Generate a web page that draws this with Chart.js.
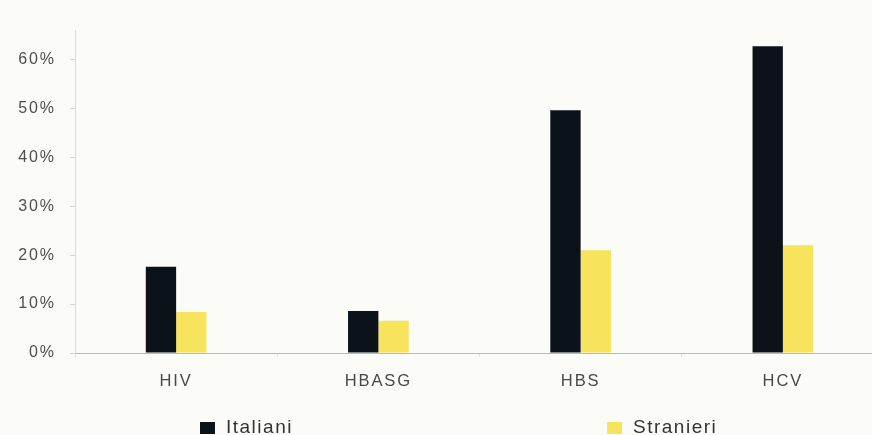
<!DOCTYPE html>
<html>
<head>
<meta charset="utf-8">
<script src="https://cdn.jsdelivr.net/npm/chart.js@4/dist/chart.umd.min.js"></script>
<style>
  html, body { margin: 0; padding: 0; background: #fbfcf8; overflow: hidden; }
  #wrap { position: relative; width: 872px; height: 435px; overflow: hidden; }
  #chart { position: absolute; left: 0; top: 0; }
  .leg { position: absolute; top: 416px; font-family: "Liberation Sans", Arial, sans-serif;
         font-size: 19px; line-height: 22px; letter-spacing: 1.5px; color: #333333; white-space: nowrap; }
  .leg i { display: inline-block; width: 15px; height: 12px; margin-right: 11px; vertical-align: -1px; }
</style>
</head>
<body>
<div id="wrap">
  <canvas id="chart" width="884" height="435"></canvas>
  <div id="legend"></div>
</div>
<script>
const categories = ['HIV', 'HBASG', 'HBS', 'HCV'];
const italiani = [17.6, 8.6, 49.6, 62.7];
const stranieri = [8.4, 6.6, 21.0, 22.0];
const yTicks = [0, 10, 20, 30, 40, 50, 60];

const seriesNames = ['Italiani', 'Stranieri'];
const seriesColors = ['#0b1219', '#f8e35c'];
const legendX = [200, 607];

// wider glyph spacing for the axis labels
const spacing = {
  id: 'spacing',
  beforeDraw(chart) {
    chart.ctx.letterSpacing = '1.9px';
  }
};

const ctx = document.getElementById('chart').getContext('2d');
const chart = new Chart(ctx, {
  type: 'bar',
  data: {
    labels: categories,
    datasets: [
      { label: seriesNames[0], data: italiani, backgroundColor: seriesColors[0] },
      { label: seriesNames[1], data: stranieri, backgroundColor: seriesColors[1] }
    ]
  },
  options: {
    responsive: false,
    animation: false,
    layout: { padding: { top: 30, bottom: 42, left: 0, right: 0 } },
    datasets: { bar: { barPercentage: 1, categoryPercentage: 0.3 } },
    plugins: { legend: { display: false }, tooltip: { enabled: false } },
    scales: {
      x: {
        grid: { display: true, drawOnChartArea: false, tickLength: 4, color: '#e2e3de' },
        border: { color: '#b9bbb6', width: 1 },
        ticks: {
          padding: 15,
          color: '#484848',
          font: { family: '"Liberation Sans", Arial, sans-serif', size: 16.5 }
        },
        afterFit(scale) { scale.height = 40; }
      },
      y: {
        min: 0,
        max: 66,
        afterBuildTicks(axis) {
          axis.ticks = yTicks.map(v => ({ value: v }));
        },
        grid: { display: true, drawOnChartArea: false, tickLength: 5, color: '#d4d5d0' },
        border: { color: '#dcddd8', width: 1 },
        ticks: {
          padding: 14,
          color: '#4e4e4e',
          font: { family: '"Liberation Sans", Arial, sans-serif', size: 16 },
          callback: v => v + '%'
        },
        afterFit(scale) { scale.width = 75; }
      }
    }
  },
  plugins: [spacing]
});

// legend spread under the plot
const legend = document.getElementById('legend');
chart.data.datasets.forEach((ds, i) => {
  const item = document.createElement('div');
  item.className = 'leg';
  item.style.left = legendX[i] + 'px';
  item.innerHTML = '<i style="background:' + ds.backgroundColor + '"></i>' + ds.label;
  legend.appendChild(item);
});
</script>
</body>
</html>
